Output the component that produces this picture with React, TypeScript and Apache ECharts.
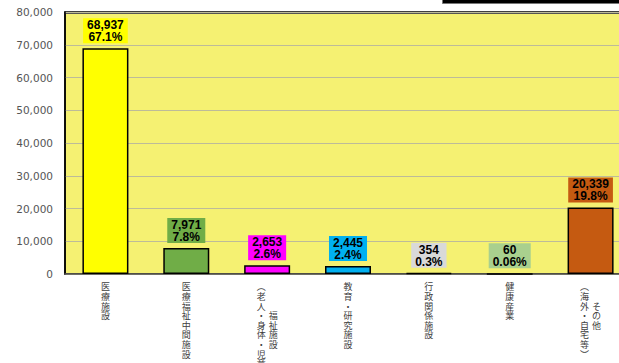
import React, { useEffect, useRef } from "react";
import * as echarts from "echarts";

const categories = [
  "医療施設",
  "医療福祉中間施設",
  "福祉施設（老人・身体・児童）",
  "教育・研究施設",
  "行政関係施設",
  "健康産業",
  "その他（海外・自宅等）",
];
const mainColumns = ["医療施設", "医療福祉中間施設", "福祉施設", "教育・研究施設", "行政関係施設", "健康産業", "その他"];
const mainColumnDrop = [0, 0, 3, 0, 0, 0, 2];
const subColumns = ["", "", "（老人・身体・児童）", "", "", "", "（海外・自宅等）"];
const values = [68937, 7971, 2653, 2445, 354, 60, 20339];
const percents = ["67.1%", "7.8%", "2.6%", "2.4%", "0.3%", "0.06%", "19.8%"];
const barColors = ["#FFFF00", "#70AD47", "#FF00FF", "#00B0F0", "#D9D9D9", "#A9D08E", "#C55A11"];
const yTicks = { min: 0, max: 80000, interval: 10000 };

const toVertical = (s: string) =>
  s
    .replace(/（/g, "︵")
    .replace(/）/g, "︶")
    .split("")
    .join("\n");

export default function App() {
  const ref = useRef<HTMLDivElement>(null);
  useEffect(() => {
    document.body.style.margin = "0";
    if (!ref.current) return;
    const chart = echarts.init(ref.current, undefined, { renderer: "svg" });
    const xLabelBase = {
      interval: 0,
      fontSize: 9,
      lineHeight: 9.6,
      color: "#404040",
      fontFamily: "Noto Sans CJK JP",
      verticalAlign: "top" as const,
      margin: 8,
    };
    const hiddenAxis = {
      type: "category" as const,
      data: categories,
      position: "bottom" as const,
      gridIndex: 0,
      axisLine: { show: false },
      axisTick: { show: false },
      splitLine: { show: false },
    };
    chart.setOption({
      animation: false,
      grid: {
        left: 65,
        top: 12,
        right: -12,
        bottom: 89,
        outerBoundsMode: "none",
        containLabel: false,
        show: true,
        backgroundColor: "#F5F172",
        borderColor: "#000",
        borderWidth: 1.5,
      },
      graphic: [
        {
          type: "rect",
          left: 442,
          top: -3,
          shape: { width: 190, height: 6 },
          style: { fill: "#000", stroke: "#777", lineWidth: 1 },
        },
        {
          type: "line",
          shape: { x1: 65, y1: 13.5, x2: 619, y2: 13.5 },
          style: { stroke: "#555", lineWidth: 1 },
        },
      ],
      xAxis: [
        {
          type: "category",
          data: categories,
          position: "bottom",
          axisLine: { show: true, lineStyle: { color: "#555", width: 1.5 } },
          axisTick: { show: false },
          axisLabel: {
            ...xLabelBase,
            formatter: (_: string, i: number) =>
              subColumns[i] ? "" : toVertical(mainColumns[i]),
          },
        },
        {
          ...hiddenAxis,
          axisLabel: {
            ...xLabelBase,
            padding: [0, 0, 0, 12],
            formatter: (_: string, i: number) =>
              subColumns[i]
                ? "\n".repeat(mainColumnDrop[i]) + toVertical(mainColumns[i])
                : "",
          },
        },
        {
          ...hiddenAxis,
          axisLabel: {
            ...xLabelBase,
            padding: [0, 12, 0, 0],
            formatter: (_: string, i: number) => (subColumns[i] ? toVertical(subColumns[i]) : ""),
          },
        },
      ],
      yAxis: {
        type: "value",
        min: yTicks.min,
        max: yTicks.max,
        interval: yTicks.interval,
        axisLine: { show: true, lineStyle: { color: "#000", width: 1.5 } },
        axisTick: { show: false },
        splitLine: { lineStyle: { color: "#BDBB99", width: 1 } },
        axisLabel: {
          margin: 12,
          fontSize: 10.5,
          color: "#555",
          fontFamily: "DejaVu Sans",
          formatter: (v: number) => v.toLocaleString("en-US"),
        },
      },
      series: [
        {
          type: "bar",
          xAxisIndex: 0,
          barWidth: 46,
          data: values.map((v, i) => ({
            value: v,
            itemStyle: { color: barColors[i] },
            label: { backgroundColor: barColors[i] },
          })),
          itemStyle: { borderColor: "#000", borderWidth: 1.5 },
          label: {
            show: true,
            position: "top",
            distance: 5,
            color: "#000",
            fontWeight: "bold",
            fontSize: 12,
            lineHeight: 12,
            fontFamily: "Liberation Sans",
            padding: [1, 4, 0, 4],
            formatter: (p: any) =>
              values[p.dataIndex].toLocaleString("en-US") + "\n" + percents[p.dataIndex],
          },
        },
      ],
    });
    return () => chart.dispose();
  }, []);
  return <div ref={ref} style={{ width: 619, height: 363 }} />;
}
